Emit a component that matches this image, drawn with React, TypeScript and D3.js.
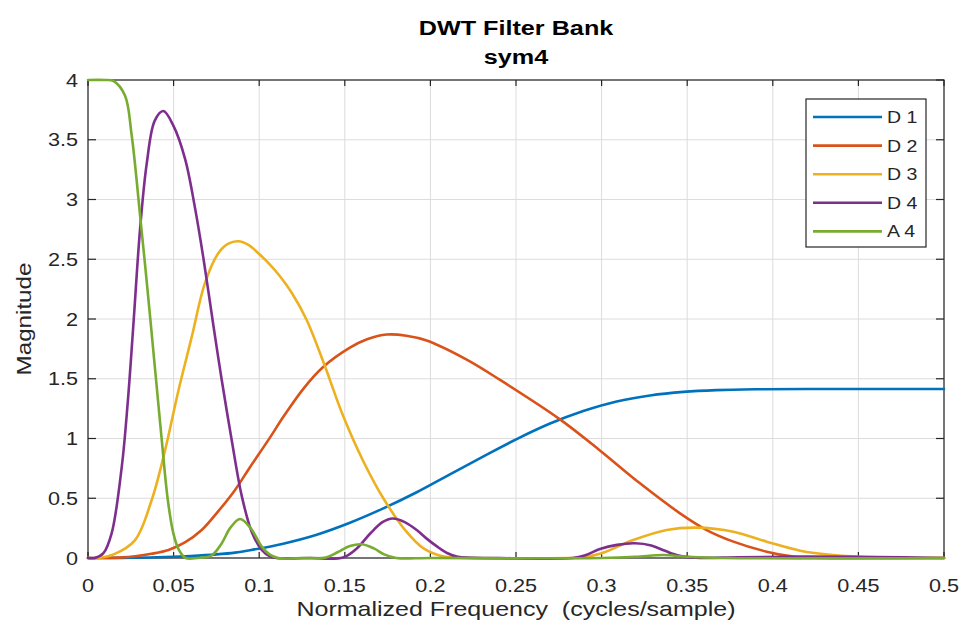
import React from "react";
import * as d3 from "d3";

// Axis ticks
const xTicks = [0, 0.05, 0.1, 0.15, 0.2, 0.25, 0.3, 0.35, 0.4, 0.45, 0.5];
const xTickLabels = ["0", "0.05", "0.1", "0.15", "0.2", "0.25", "0.3", "0.35", "0.4", "0.45", "0.5"];
const yTicks = [0, 0.5, 1, 1.5, 2, 2.5, 3, 3.5, 4];
const yTickLabels = ["0", "0.5", "1", "1.5", "2", "2.5", "3", "3.5", "4"];

// Legend entries and line colours
const seriesNames = ["D 1", "D 2", "D 3", "D 4", "A 4"];
const seriesColors = ["#0072BD", "#D95319", "#EDB120", "#7E2F8E", "#77AC30"];

// D1 magnitude response
const d1Freq = [0, 0.02, 0.04, 0.06, 0.075, 0.0859, 0.0946, 0.114, 0.1336, 0.153, 0.1725, 0.192, 0.2114, 0.231, 0.2504, 0.2699, 0.2893, 0.3088, 0.3283, 0.3478, 0.367, 0.39, 0.42, 0.46, 0.5];
const d1Mag = [0, 0.001, 0.006, 0.017, 0.03, 0.045, 0.065, 0.12, 0.195, 0.295, 0.415, 0.55, 0.7, 0.85, 0.995, 1.125, 1.23, 1.31, 1.36, 1.39, 1.405, 1.412, 1.414, 1.414, 1.414];

// D2 magnitude response
const d2Freq = [0, 0.01, 0.02, 0.0275, 0.037, 0.047, 0.0566, 0.0664, 0.076, 0.0859, 0.0946, 0.105, 0.115, 0.126, 0.1375, 0.153, 0.163, 0.1745, 0.186, 0.1978, 0.2212, 0.2407, 0.2757, 0.299, 0.3224, 0.3458, 0.3614, 0.377, 0.3964, 0.412, 0.43, 0.5];
const d2Mag = [0, 0, 0.005, 0.015, 0.035, 0.067, 0.13, 0.234, 0.39, 0.57, 0.76, 0.98, 1.2, 1.42, 1.6, 1.76, 1.83, 1.87, 1.86, 1.82, 1.66, 1.49, 1.16, 0.9, 0.625, 0.374, 0.234, 0.137, 0.053, 0.012, 0, 0];

// D3 magnitude response
const d3Freq = [0, 0.006, 0.015, 0.0275, 0.0372, 0.045, 0.0528, 0.0606, 0.0683, 0.0761, 0.082, 0.0878, 0.0937, 0.0995, 0.106, 0.112, 0.119, 0.1278, 0.1375, 0.149, 0.1608, 0.1725, 0.186, 0.196, 0.207, 0.22, 0.28, 0.289, 0.3, 0.3185, 0.338, 0.3555, 0.377, 0.3964, 0.416, 0.435, 0.46, 0.5];
const d3Mag = [0, 0, 0.03, 0.15, 0.485, 0.9, 1.4, 1.85, 2.3, 2.55, 2.63, 2.65, 2.62, 2.55, 2.46, 2.36, 2.22, 1.99, 1.64, 1.19, 0.81, 0.5, 0.22, 0.08, 0.015, 0, 0, 0.005, 0.04, 0.15, 0.234, 0.254, 0.22, 0.137, 0.061, 0.025, 0.005, 0];

// D4 magnitude response
const d4Freq = [0, 0.004, 0.009, 0.0138, 0.0197, 0.0232, 0.0265, 0.0304, 0.0343, 0.039, 0.044, 0.0498, 0.0567, 0.0625, 0.0674, 0.0732, 0.078, 0.0839, 0.0898, 0.0956, 0.1015, 0.106, 0.11, 0.13, 0.149, 0.157, 0.165, 0.172, 0.178, 0.185, 0.192, 0.198, 0.204, 0.21, 0.216, 0.24, 0.283, 0.29, 0.299, 0.309, 0.3195, 0.329, 0.337, 0.345, 0.355, 0.38, 0.42, 0.46, 0.5];
const d4Mag = [0, 0, 0.04, 0.206, 0.76, 1.3, 1.95, 2.75, 3.3, 3.66, 3.74, 3.62, 3.34, 2.93, 2.51, 1.95, 1.5, 0.99, 0.52, 0.22, 0.067, 0.015, 0, 0, 0.005, 0.08, 0.207, 0.3, 0.33, 0.3, 0.234, 0.16, 0.095, 0.04, 0.01, 0, 0, 0.02, 0.075, 0.11, 0.123, 0.105, 0.06, 0.02, 0.003, 0.006, 0.012, 0.008, 0];

// A4 magnitude response
const a4Freq = [0, 0.01, 0.015, 0.0216, 0.0255, 0.0304, 0.0337, 0.0366, 0.0397, 0.043, 0.0465, 0.0498, 0.053, 0.057, 0.064, 0.072, 0.078, 0.083, 0.0888, 0.095, 0.1015, 0.106, 0.111, 0.125, 0.139, 0.146, 0.153, 0.16, 0.167, 0.173, 0.18, 0.2, 0.3, 0.32, 0.336, 0.35, 0.37, 0.5];
const a4Mag = [4, 4, 3.99, 3.87, 3.54, 2.87, 2.4, 1.97, 1.5, 1.0, 0.5, 0.21, 0.07, 0, 0, 0.02, 0.12, 0.25, 0.326, 0.25, 0.095, 0.03, 0, 0, 0.005, 0.05, 0.1, 0.115, 0.08, 0.03, 0, 0, 0, 0.01, 0.025, 0.01, 0, 0];

const freqs = [d1Freq, d2Freq, d3Freq, d4Freq, a4Freq];
const mags = [d1Mag, d2Mag, d3Mag, d4Mag, a4Mag];

const W = 964;
const H = 630;
const plot = { left: 88, right: 944, top: 80, bottom: 558 };
const AXIS = "#262626";
const FONT = "'Liberation Sans', Arial, Helvetica, sans-serif";

type TextProps = {
  x: number;
  y: number;
  size: number;
  sx: number;
  anchor?: "start" | "middle" | "end";
  weight?: string;
  rotate?: number;
  fill?: string;
  children: React.ReactNode;
};

function SText({ x, y, size, sx, anchor = "start", weight = "normal", rotate, fill = AXIS, children }: TextProps) {
  const rot = rotate ? ` rotate(${rotate})` : "";
  return (
    <text
      transform={`translate(${x},${y})${rot} scale(${sx},1)`}
      fontSize={size}
      fontFamily={FONT}
      fontWeight={weight}
      textAnchor={anchor}
      fill={fill}
    >
      {children}
    </text>
  );
}

export default function App() {
  const x = d3.scaleLinear().domain([0, 0.5]).range([plot.left, plot.right]);
  const y = d3.scaleLinear().domain([0, 4]).range([plot.bottom, plot.top]);

  const line = d3
    .line<[number, number]>()
    .x((d) => x(d[0]))
    .y((d) => y(d[1]))
    .curve(d3.curveCatmullRom.alpha(0.5));

  const series = seriesNames.map((name, i) => ({
    name,
    color: seriesColors[i],
    points: freqs[i].map((f, j) => [f, mags[i][j]] as [number, number]),
  }));

  const tickFont = 18.5;
  const tickSx = 1.17;
  const legendX = 806;
  const legendY = 99;
  const legendRow = 28.6;

  return (
    <svg
      width={W}
      height={H}
      viewBox={`0 0 ${W} ${H}`}
      style={{ position: "absolute", left: 0, top: 0, background: "#fff" }}
    >
      <defs>
        <clipPath id="plot-clip">
          <rect x={plot.left - 2} y={plot.top - 2} width={plot.right - plot.left + 4} height={plot.bottom - plot.top + 4} />
        </clipPath>
      </defs>
      <rect x={0} y={0} width={W} height={H} fill="#fff" />

      {/* grid */}
      <g stroke="#dcdcdc" strokeWidth={1}>
        {xTicks.map((t) => (
          <line key={`gx${t}`} x1={x(t)} x2={x(t)} y1={plot.top} y2={plot.bottom} />
        ))}
        {yTicks.map((t) => (
          <line key={`gy${t}`} x1={plot.left} x2={plot.right} y1={y(t)} y2={y(t)} />
        ))}
      </g>

      {/* axes box and inward ticks */}
      <rect
        x={plot.left}
        y={plot.top}
        width={plot.right - plot.left}
        height={plot.bottom - plot.top}
        fill="none"
        stroke={AXIS}
        strokeWidth={1.2}
      />
      <g stroke={AXIS} strokeWidth={1.2}>
        {xTicks.map((t) => (
          <g key={`tx${t}`}>
            <line x1={x(t)} x2={x(t)} y1={plot.bottom} y2={plot.bottom - 6} />
            <line x1={x(t)} x2={x(t)} y1={plot.top} y2={plot.top + 6} />
          </g>
        ))}
        {yTicks.map((t) => (
          <g key={`ty${t}`}>
            <line x1={plot.left} x2={plot.left + 8} y1={y(t)} y2={y(t)} />
            <line x1={plot.right} x2={plot.right - 8} y1={y(t)} y2={y(t)} />
          </g>
        ))}
      </g>

      {/* response curves */}
      <g fill="none" strokeWidth={2.6} strokeLinejoin="round" strokeLinecap="round" clipPath="url(#plot-clip)">
        {series.map((s) => (
          <path key={s.name} d={line(s.points) || ""} stroke={s.color} />
        ))}
      </g>

      {/* tick labels */}
      {xTicks.map((t, i) => (
        <SText key={`lx${t}`} x={x(t)} y={592} size={tickFont} sx={tickSx} anchor="middle">
          {xTickLabels[i]}
        </SText>
      ))}
      {yTicks.map((t, i) => (
        <SText key={`ly${t}`} x={78} y={y(t) + 6.6} size={tickFont} sx={tickSx} anchor="end">
          {yTickLabels[i]}
        </SText>
      ))}

      {/* titles and axis labels */}
      <SText x={516} y={34.5} size={21} sx={1.2} anchor="middle" weight="bold" fill="#000">
        DWT Filter Bank
      </SText>
      <SText x={516} y={63.5} size={21} sx={1.2} anchor="middle" weight="bold" fill="#000">
        sym4
      </SText>
      <SText x={516} y={616} size={20.5} sx={1.22} anchor="middle">
        {"Normalized Frequency\u00a0\u00a0(cycles/sample)"}
      </SText>
      <SText x={31} y={319} size={20.5} sx={1.18} anchor="middle" rotate={-90}>
        Magnitude
      </SText>

      {/* legend */}
      <rect x={legendX} y={legendY} width={120} height={148} fill="#fff" stroke={AXIS} strokeWidth={1.2} />
      {series.map((s, i) => {
        const ry = legendY + 18 + i * legendRow;
        return (
          <g key={`lg${s.name}`}>
            <line x1={legendX + 7} x2={legendX + 76} y1={ry} y2={ry} stroke={s.color} strokeWidth={2.6} />
            <SText x={legendX + 81} y={ry + 6} size={16.7} sx={1.17}>
              {s.name}
            </SText>
          </g>
        );
      })}
    </svg>
  );
}
